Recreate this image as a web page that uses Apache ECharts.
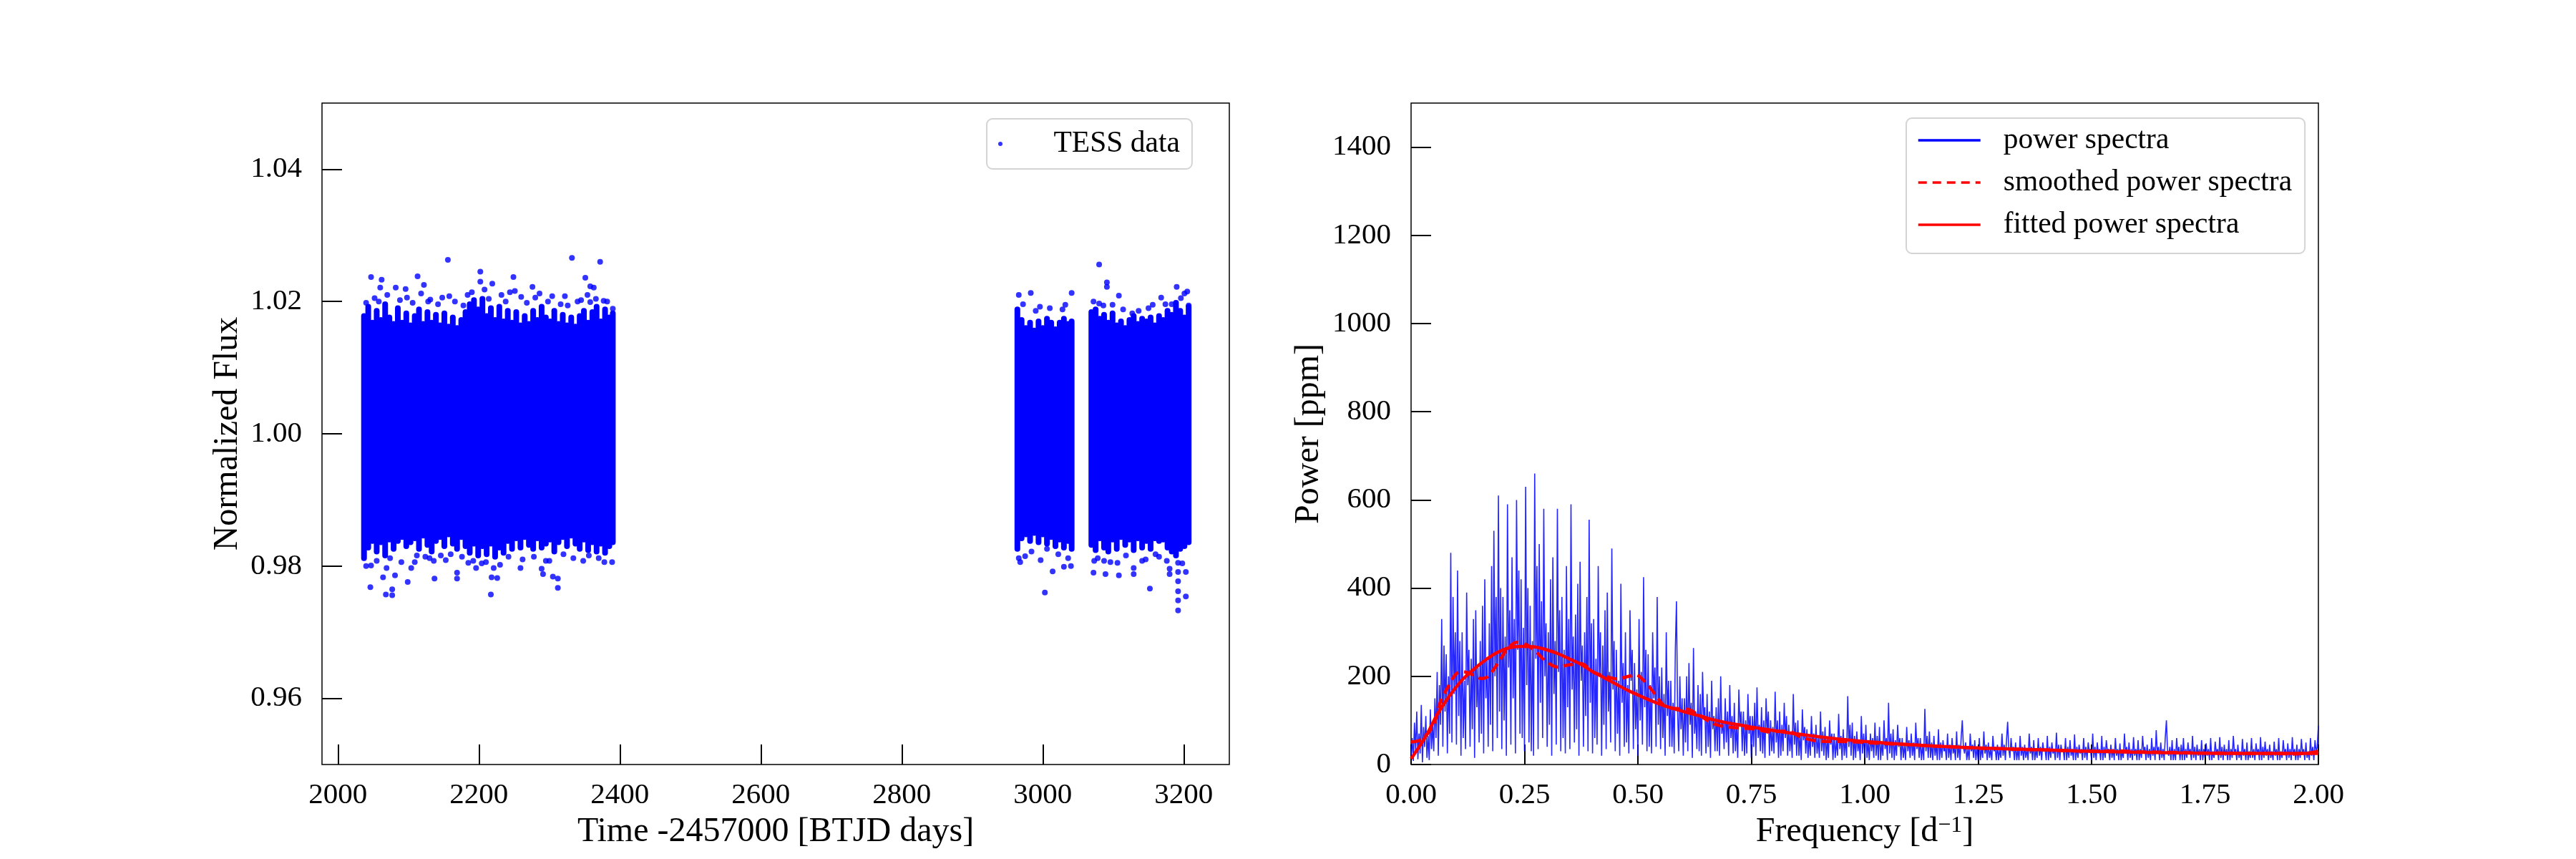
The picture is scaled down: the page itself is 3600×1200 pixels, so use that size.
<!DOCTYPE html>
<html>
<head>
<meta charset="utf-8">
<script src="https://cdn.jsdelivr.net/npm/echarts@6/dist/echarts.min.js"></script>
<style>
  html, body { margin: 0; padding: 0; background: #fff; }
  #container { width: 3600px; height: 1200px; }
</style>
</head>
<body>
<div id="container"></div>
<script>
  // ---- light curve: dense band per time bin (low / high) ----
  var bandTime = [
    2037, 2043, 2049, 2055, 2061, 2067, 2073, 2079, 2085, 2091, 2097, 2103, 2109, 2115, 2121,
    2127, 2133, 2139, 2145, 2151, 2157, 2163, 2169, 2175, 2181, 2187, 2193, 2199, 2205, 2211,
    2217, 2223, 2229, 2235, 2241, 2247, 2253, 2259, 2265, 2271, 2277, 2283, 2289, 2295, 2301,
    2307, 2313, 2319, 2325, 2331, 2337, 2343, 2349, 2355, 2361, 2367, 2373, 2379, 2385, 2390,
    2964, 2970, 2976, 2982, 2988, 2994, 3000, 3006, 3012, 3018, 3024, 3030, 3036, 3041,
    3069, 3075, 3081, 3087, 3093, 3099, 3105, 3111, 3117, 3123, 3129, 3135, 3141, 3147, 3153,
    3159, 3165, 3171, 3177, 3183, 3189, 3195, 3201, 3207
  ];
  var bandHigh = [
    1.0178, 1.0192, 1.0168, 1.0186, 1.0172, 1.0196, 1.0176, 1.0166, 1.0190, 1.0168, 1.0182, 1.0164, 1.0178, 1.0188, 1.0166,
    1.0184, 1.0168, 1.0180, 1.0164, 1.0182, 1.0162, 1.0176, 1.0160, 1.0172, 1.0184, 1.0196, 1.0202, 1.0188, 1.0204, 1.0178,
    1.0190, 1.0172, 1.0192, 1.0170, 1.0186, 1.0168, 1.0184, 1.0164, 1.0178, 1.0166, 1.0186, 1.0172, 1.0192, 1.0176, 1.0170,
    1.0186, 1.0166, 1.0180, 1.0164, 1.0176, 1.0162, 1.0178, 1.0186, 1.0168, 1.0184, 1.0192, 1.0170, 1.0188, 1.0176, 1.0182,
    1.0188, 1.0172, 1.0160, 1.0168, 1.0156, 1.0170, 1.0160, 1.0174, 1.0168, 1.0158, 1.0168, 1.0174, 1.0166, 1.0170,
    1.0184, 1.0188, 1.0174, 1.0180, 1.0168, 1.0182, 1.0164, 1.0170, 1.0160, 1.0172, 1.0178, 1.0166, 1.0174, 1.0170, 1.0176,
    1.0164, 1.0178, 1.0172, 1.0186, 1.0180, 1.0198, 1.0186, 1.0176, 1.0192
  ];
  var bandLow = [
    0.9812, 0.9828, 0.9838, 0.9822, 0.9836, 0.9816, 0.9840, 0.9826, 0.9838, 0.9844, 0.9830, 0.9836, 0.9842, 0.9826, 0.9846,
    0.9832, 0.9822, 0.9838, 0.9844, 0.9830, 0.9848, 0.9834, 0.9826, 0.9844, 0.9830, 0.9820, 0.9834, 0.9816, 0.9830, 0.9818,
    0.9834, 0.9814, 0.9828, 0.9820, 0.9838, 0.9826, 0.9842, 0.9828, 0.9844, 0.9832, 0.9826, 0.9842, 0.9828, 0.9834, 0.9840,
    0.9822, 0.9836, 0.9844, 0.9830, 0.9846, 0.9834, 0.9826, 0.9840, 0.9824, 0.9836, 0.9822, 0.9834, 0.9820, 0.9830, 0.9836,
    0.9826, 0.9842, 0.9848, 0.9838, 0.9850, 0.9836, 0.9848, 0.9834, 0.9844, 0.9830, 0.9840, 0.9828, 0.9838, 0.9826,
    0.9832, 0.9824, 0.9842, 0.9828, 0.9822, 0.9840, 0.9826, 0.9844, 0.9832, 0.9840, 0.9824, 0.9842, 0.9828, 0.9838, 0.9826,
    0.9842, 0.9838, 0.9840, 0.9828, 0.9822, 0.9816, 0.9826, 0.9830, 0.9836
  ];

  // ---- light curve: scattered points outside the dense band ----
  var outTime = [
    2156, 2332, 2372, 2047, 2062, 2113, 2202, 2249, 2351, 2060, 2082, 2096, 2122, 2202, 2219,
    2276, 2358, 2363, 2158, 2184, 2251, 2322, 2345, 2358, 2377, 2390, 2098, 2131, 2260, 2326,
    2040, 2052, 2058, 2070, 2088, 2106, 2118, 2128, 2142, 2148, 2166, 2178, 2190, 2208, 2214,
    2232, 2238, 2244, 2268, 2280, 2286, 2298, 2304, 2316, 2340, 2354, 2366, 2382,
    2046, 2068, 2077, 2077, 2064, 2081, 2099, 2137, 2169, 2169, 2217, 2218, 2226, 2312, 2312,
    2305, 2291, 2289, 2259, 2196, 2204, 2185, 2153, 2136, 2104, 2069, 2047, 2389, 2348, 2370,
    2295, 2124, 2109, 2221,
    2040, 2055, 2074, 2090, 2112, 2130, 2146, 2160, 2176, 2192, 2210, 2230, 2242, 2262, 2278,
    2300, 2320, 2334, 2356, 2378,
    3080, 3091, 3091, 3108, 3190, 3205, 3201, 3168, 3156, 2966, 2983, 3041, 2996, 3032, 3080,
    3099, 3183, 3207, 3127,
    2972, 2990, 3010, 3028, 3072, 3086, 3114, 3136, 3150, 3174, 3196,
    3003, 3014, 2968, 2975, 2997, 3040, 3030, 3072, 3089, 3108, 3129, 3129, 3152, 3180, 3180,
    3203, 3203, 3141, 3073, 3087, 3165, 3106,
    2966, 2984, 3006, 3022, 3036, 3078, 3096, 3118, 3146, 3160, 3176, 3198,
    3192, 3192, 3192, 3192, 3192, 3192
  ];
  var outFlux = [
    1.0263, 1.0266, 1.0260, 1.0237, 1.0233, 1.0238, 1.0245, 1.0237, 1.0236, 1.0221, 1.0221, 1.0219, 1.0225, 1.0230, 1.0227,
    1.0222, 1.0223, 1.0221, 1.0208, 1.0210, 1.0216, 1.0208, 1.0202, 1.0199, 1.0201, 1.0189, 1.0206, 1.0203, 1.0207, 1.0194,
    1.0198, 1.0205, 1.0200, 1.0210, 1.0202, 1.0198, 1.0212, 1.0200, 1.0196, 1.0206, 1.0200, 1.0194, 1.0214, 1.0218, 1.0204,
    1.0210, 1.0200, 1.0214, 1.0198, 1.0206, 1.0212, 1.0200, 1.0208, 1.0196, 1.0200, 1.0210, 1.0204, 1.0200,
    0.9768, 0.9757, 0.9756, 0.9765, 0.9783, 0.9786, 0.9776, 0.9781, 0.9781, 0.9790, 0.9757, 0.9783, 0.9782, 0.9767, 0.9781,
    0.9784, 0.9788, 0.9796, 0.9797, 0.9797, 0.9804, 0.9805, 0.9809, 0.9808, 0.9797, 0.9797, 0.9801, 0.9806, 0.9808, 0.9812,
    0.9808, 0.9814, 0.9806, 0.9797,
    0.9800, 0.9808, 0.9812, 0.9806, 0.9816, 0.9812, 0.9816, 0.9818, 0.9814, 0.9808, 0.9806, 0.9802, 0.9814, 0.9810, 0.9814,
    0.9808, 0.9818, 0.9812, 0.9816, 0.9806,
    1.0256, 1.0229, 1.0222, 1.0209, 1.0222, 1.0215, 1.0212, 1.0206, 1.0195, 1.0210, 1.0213, 1.0213, 1.0192, 1.0195, 1.0197,
    1.0195, 1.0196, 1.0194, 1.0182,
    1.0196, 1.0186, 1.0190, 1.0188, 1.0200, 1.0194, 1.0188, 1.0186, 1.0190, 1.0196, 1.0205,
    0.9760, 0.9792, 0.9806, 0.9815, 0.9809, 0.9800, 0.9799, 0.9790, 0.9788, 0.9786, 0.9788, 0.9797, 0.9766, 0.9788, 0.9796,
    0.9791, 0.9754, 0.9808, 0.9808, 0.9808, 0.9814, 0.9805,
    0.9812, 0.9822, 0.9826, 0.9818, 0.9812, 0.9812, 0.9806, 0.9816, 0.9810, 0.9818, 0.9808, 0.9804,
    0.9733, 0.9748, 0.9762, 0.9777, 0.9791, 0.9805
  ];

  // ---- power spectrum, sampled every 0.0025 d^-1 from 0 to 2 (one row = 0.05 d^-1) ----
  var freqStep = 0.0025;
  var powerVals = [
    20, 60, 8, 95, 30, 120, 12, 70, 25, 135, 5, 85, 40, 110, 15, 65, 10, 125, 35, 90,
    30, 150, 60, 210, 20, 180, 90, 330, 40, 270, 120, 250, 25, 200, 70, 480, 50, 380, 160, 300,
    45, 440, 110, 280, 20, 300, 60, 190, 35, 390, 180, 260, 40, 240, 80, 330, 15, 350, 130, 220,
    50, 280, 70, 360, 25, 420, 150, 240, 40, 320, 90, 450, 30, 530, 200, 380, 60, 610, 120, 400,
    35, 380, 100, 290, 20, 590, 220, 350, 45, 470, 150, 330, 25, 600, 260, 440, 70, 420, 60, 310,
    30, 630, 180, 400, 50, 360, 30, 280, 20, 660, 240, 450, 35, 500, 140, 370, 60, 580, 200, 320,
    40, 300, 90, 420, 20, 470, 160, 280, 45, 580, 210, 350, 30, 380, 60, 260, 25, 450, 130, 330,
    35, 590, 170, 290, 50, 340, 80, 410, 20, 460, 190, 270, 40, 300, 110, 380, 30, 555, 140, 320,
    25, 330, 60, 240, 45, 450, 200, 300, 20, 270, 90, 350, 35, 390, 120, 210, 50, 490, 170, 280,
    30, 260, 70, 190, 20, 410, 140, 230, 40, 300, 50, 180, 25, 350, 190, 260, 35, 230, 80, 170,
    20, 330, 100, 210, 45, 425, 130, 260, 30, 250, 40, 180, 25, 300, 150, 220, 40, 380, 90, 200,
    35, 220, 60, 160, 20, 300, 110, 190, 40, 190, 40, 140, 25, 260, 370, 120, 30, 200, 80, 150,
    20, 150, 50, 200, 30, 230, 90, 140, 15, 264, 70, 120, 35, 180, 30, 160, 20, 210, 110, 130,
    25, 160, 40, 120, 15, 190, 80, 110, 30, 130, 30, 150, 20, 200, 70, 100, 35, 150, 50, 120,
    20, 180, 60, 110, 25, 140, 30, 90, 15, 170, 90, 120, 30, 120, 20, 100, 25, 160, 70, 110,
    15, 110, 40, 140, 20, 175, 60, 90, 30, 130, 25, 100, 15, 150, 70, 120, 20, 100, 30, 85,
    25, 165, 50, 100, 15, 120, 20, 90, 30, 140, 60, 110, 20, 90, 30, 75, 15, 160, 45, 95,
    20, 100, 20, 70, 10, 125, 55, 85, 25, 80, 15, 65, 20, 110, 40, 70, 15, 90, 25, 60,
    15, 120, 30, 75, 20, 85, 10, 60, 15, 100, 45, 70, 10, 70, 15, 55, 20, 115, 35, 65,
    10, 80, 20, 60, 15, 155, 40, 90, 20, 95, 10, 65, 15, 75, 30, 55, 10, 110, 25, 70,
    15, 90, 15, 55, 10, 70, 30, 60, 15, 95, 20, 65, 10, 85, 10, 50, 20, 100, 35, 60,
    10, 140, 25, 70, 15, 80, 10, 55, 20, 90, 40, 60, 10, 60, 15, 45, 10, 85, 30, 55,
    15, 70, 20, 50, 10, 95, 35, 60, 15, 60, 10, 45, 10, 126, 30, 65, 15, 75, 15, 50,
    10, 65, 20, 45, 10, 80, 10, 50, 15, 55, 30, 40, 10, 70, 15, 45, 10, 60, 25, 40,
    10, 75, 15, 45, 10, 60, 100, 40, 25, 50, 10, 35, 10, 70, 30, 45, 15, 55, 10, 40,
    10, 60, 10, 40, 15, 75, 25, 45, 10, 50, 15, 35, 10, 65, 30, 40, 10, 45, 10, 35,
    15, 70, 20, 45, 10, 55, 97, 35, 15, 60, 30, 40, 10, 50, 10, 35, 10, 65, 20, 40,
    10, 45, 15, 35, 10, 70, 25, 40, 10, 55, 10, 35, 15, 60, 20, 40, 10, 50, 30, 35,
    10, 65, 10, 40, 15, 50, 25, 35, 10, 72, 15, 45, 10, 45, 30, 35, 10, 60, 10, 40,
    15, 55, 20, 35, 10, 68, 10, 40, 15, 45, 25, 35, 10, 60, 15, 40, 10, 50, 30, 35,
    10, 70, 15, 40, 10, 50, 25, 35, 10, 65, 10, 40, 15, 55, 30, 35, 10, 45, 15, 35,
    10, 60, 20, 35, 10, 48, 10, 30, 15, 70, 25, 40, 10, 50, 15, 35, 10, 62, 20, 35,
    10, 55, 10, 35, 15, 65, 30, 40, 10, 45, 15, 35, 10, 60, 20, 40, 10, 78, 25, 40,
    10, 50, 15, 35, 10, 62, 100, 30, 20, 40, 10, 55, 10, 35, 10, 60, 25, 40, 10, 45,
    10, 60, 10, 35, 15, 50, 25, 35, 10, 65, 15, 40, 10, 45, 20, 35, 10, 55, 10, 35,
    15, 48, 20, 35, 10, 60, 10, 30, 15, 52, 25, 35, 10, 62, 15, 40, 10, 45, 20, 35,
    10, 55, 10, 35, 15, 65, 25, 35, 10, 45, 15, 30, 10, 58, 20, 35, 10, 50, 10, 30,
    15, 60, 15, 35, 10, 48, 25, 35, 10, 62, 10, 40, 15, 52, 20, 35, 10, 45, 15, 30,
    10, 52, 20, 35, 10, 60, 10, 30, 15, 55, 25, 35, 10, 48, 15, 35, 10, 62, 20, 35,
    10, 45, 10, 35, 15, 58, 25, 35, 10, 50, 15, 30, 10, 60, 20, 40, 10, 55, 30, 40,
    88
  ];

  var smoothFreq = [
    0, 0.023, 0.049, 0.065, 0.081, 0.102, 0.117, 0.138, 0.154, 0.170, 0.191, 0.212, 0.233, 0.254,
    0.275, 0.296, 0.322, 0.348, 0.375, 0.401, 0.428, 0.454, 0.480, 0.496, 0.517, 0.538, 0.559,
    0.585, 0.611, 0.638, 0.664, 0.690, 0.727, 0.76, 0.79, 0.83, 0.86, 0.90, 0.96, 1.00, 1.05,
    1.10, 1.15, 1.20, 1.25, 1.30, 1.35, 1.40, 1.45, 1.50, 1.55, 1.60, 1.65, 1.70, 1.75, 1.80,
    1.85, 1.90, 1.95, 1.99, 2.00
  ];
  var smoothPower = [
    51, 57, 89, 143, 175, 208, 210, 203, 195, 200, 229, 262, 277, 272,
    256, 235, 221, 226, 229, 210, 200, 194, 200, 203, 186, 159, 132,
    127, 125, 110, 94, 86, 83, 80, 74, 76, 62, 53, 52, 50, 47,
    45, 42, 40, 37, 36, 34, 33, 31, 30, 31, 29, 28, 27, 26, 26,
    25, 25, 24, 28, 30
  ];

  var fitFreq = [
    0, 0.033, 0.059, 0.085, 0.112, 0.138, 0.164, 0.190, 0.217, 0.243, 0.270, 0.296, 0.322,
    0.348, 0.375, 0.401, 0.427, 0.454, 0.480, 0.506, 0.533, 0.559, 0.585, 0.611, 0.638,
    0.664, 0.690, 0.717, 0.750, 0.833, 0.960, 1.087, 1.214, 1.340, 1.467, 1.594, 1.721,
    1.848, 2.000
  ];
  var fitPower = [
    13, 65, 116, 156, 191, 216, 237, 254, 265, 268, 267, 261, 252,
    240, 227, 210, 196, 181, 167, 155, 143, 133, 125, 117, 110,
    102, 96, 91, 85, 72, 56, 46, 39, 35, 31, 28, 26,
    25, 25
  ];

  var lcTicksX = [2000, 2200, 2400, 2600, 2800, 3000, 3200];
  var lcTicksY = [0.96, 0.98, 1.00, 1.02, 1.04];
  var psTicksY = [0, 200, 400, 600, 800, 1000, 1200, 1400];

  var FONT = '"Liberation Serif", "Times New Roman", serif';

  function zip2(a, b) {
    return a.map(function (v, i) { return [v, b[i]]; });
  }

  var bandData = bandTime.map(function (t, i) { return [t, bandLow[i], bandHigh[i]]; });
  var outData = zip2(outTime, outFlux);
  var spectrumData = powerVals.map(function (p, i) { return [i * freqStep, p]; });

  var dom = document.getElementById('container');
  var myChart = echarts.init(dom, null, { renderer: 'canvas' });

  var tickStyle = { show: true, inside: true, length: 28, lineStyle: { color: '#000', width: 2 } };
  var labelStyle = { color: '#000', fontSize: 41, fontFamily: FONT };
  var nameStyle = { color: '#000', fontSize: 48, fontFamily: FONT };
  var legendBox = {
    borderColor: '#d4d4d4', borderWidth: 2, borderRadius: 8,
    backgroundColor: 'rgba(255,255,255,0.8)'
  };
  var noSymbol = { color: 'rgba(0,0,0,0)', borderWidth: 0 };

  var option = {
    backgroundColor: '#fff',
    animation: false,
    grid: [
      { left: 450, top: 144, width: 1268, height: 924, show: true, borderColor: '#000', borderWidth: 1.5 },
      { left: 1972, top: 144, width: 1268, height: 924, show: true, borderColor: '#000', borderWidth: 1.5 }
    ],
    legend: [
      Object.assign({
        left: 1379, top: 166, orient: 'vertical',
        data: [{ name: 'TESS data', icon: 'circle' }],
        itemWidth: 83, itemHeight: 6, itemGap: 0,
        padding: [14, 17, 14, 16],
        textStyle: { color: '#000', fontSize: 41.5, fontFamily: FONT, lineHeight: 42, padding: [0, 0, 0, 28] }
      }, legendBox),
      Object.assign({
        left: 2664, top: 165, orient: 'vertical',
        data: [
          { name: 'power spectra', itemStyle: noSymbol, lineStyle: { width: 3.5, color: '#0000ff' } },
          { name: 'smoothed power spectra', itemStyle: noSymbol, lineStyle: { width: 3.5, color: '#ff0000', type: [12, 8] } },
          { name: 'fitted power spectra', itemStyle: noSymbol, lineStyle: { width: 3.5, color: '#ff0000' } }
        ],
        itemWidth: 87, itemHeight: 2, itemGap: 17,
        padding: [10, 18, 19, 15],
        textStyle: { color: '#000', fontSize: 41.5, fontFamily: FONT, lineHeight: 42, padding: [0, 0, 0, 27] }
      }, legendBox)
    ],
    xAxis: [
      {
        gridIndex: 0, type: 'value', min: 1977.4, max: 3264.7,
        name: 'Time -2457000 [BTJD days]', nameLocation: 'middle', nameGap: 70, nameTextStyle: nameStyle,
        axisLine: { show: false },
        axisTick: Object.assign({ customValues: lcTicksX }, tickStyle),
        axisLabel: Object.assign({ customValues: lcTicksX, margin: 23, formatter: function (v) { return String(v); } }, labelStyle),
        splitLine: { show: false }
      },
      {
        gridIndex: 1, type: 'value', min: 0, max: 2, interval: 0.25,
        name: 'Frequency [d{sup|\u22121}]', nameLocation: 'middle', nameGap: 70,
        nameTextStyle: Object.assign({
          rich: { sup: { fontSize: 32, fontFamily: FONT, color: '#000', verticalAlign: 'top', lineHeight: 30 } }
        }, nameStyle),
        axisLine: { show: false },
        axisTick: tickStyle,
        axisLabel: Object.assign({ margin: 23, formatter: function (v) { return v.toFixed(2); } }, labelStyle),
        splitLine: { show: false }
      }
    ],
    yAxis: [
      {
        gridIndex: 0, type: 'value', min: 0.95, max: 1.05,
        name: 'Normalized Flux', nameLocation: 'middle', nameGap: 108, nameTextStyle: nameStyle,
        axisLine: { show: false },
        axisTick: Object.assign({ customValues: lcTicksY }, tickStyle),
        axisLabel: Object.assign({ customValues: lcTicksY, margin: 28, formatter: function (v) { return v.toFixed(2); } }, labelStyle),
        splitLine: { show: false }
      },
      {
        gridIndex: 1, type: 'value', min: 0, max: 1500,
        name: 'Power [ppm]', nameLocation: 'middle', nameGap: 119, nameTextStyle: nameStyle,
        axisLine: { show: false },
        axisTick: Object.assign({ customValues: psTicksY }, tickStyle),
        axisLabel: Object.assign({ customValues: psTicksY, margin: 28, formatter: function (v) { return String(v); } }, labelStyle),
        splitLine: { show: false }
      }
    ],
    series: [
      {
        name: 'TESS data', type: 'scatter', xAxisIndex: 0, yAxisIndex: 0,
        data: outData, symbolSize: 8,
        itemStyle: { color: '#0000ff' }
      },
      {
        name: 'TESS data', type: 'custom', xAxisIndex: 0, yAxisIndex: 0,
        data: bandData,
        encode: { x: 0, y: [1, 2] },
        itemStyle: { color: '#0000ff' },
        renderItem: function (params, api) {
          var t = api.value(0);
          var top = api.coord([t, api.value(2)]);
          var bot = api.coord([t, api.value(1)]);
          return {
            type: 'line',
            shape: { x1: top[0], y1: top[1], x2: bot[0], y2: bot[1] },
            style: { stroke: '#0000ff', lineWidth: 8, lineCap: 'round' }
          };
        }
      },
      {
        name: 'power spectra', type: 'line', xAxisIndex: 1, yAxisIndex: 1,
        data: spectrumData, symbol: 'none', sampling: null,
        lineStyle: { color: 'rgba(0,0,255,0.85)', width: 1.6 },
        itemStyle: { color: '#0000ff' }
      },
      {
        name: 'smoothed power spectra', type: 'line', xAxisIndex: 1, yAxisIndex: 1,
        data: zip2(smoothFreq, smoothPower), symbol: 'none', smooth: 0.3,
        lineStyle: { color: '#ff0000', width: 4.5, type: [14, 8] },
        itemStyle: { color: '#ff0000' }
      },
      {
        name: 'fitted power spectra', type: 'line', xAxisIndex: 1, yAxisIndex: 1,
        data: zip2(fitFreq, fitPower), symbol: 'none', smooth: 0.4,
        lineStyle: { color: '#ff0000', width: 4.5 },
        itemStyle: { color: '#ff0000' }
      }
    ]
  };

  if (option && typeof option === 'object') {
    myChart.setOption(option);
  }

  window.addEventListener('resize', myChart.resize);
</script>
</body>
</html>
